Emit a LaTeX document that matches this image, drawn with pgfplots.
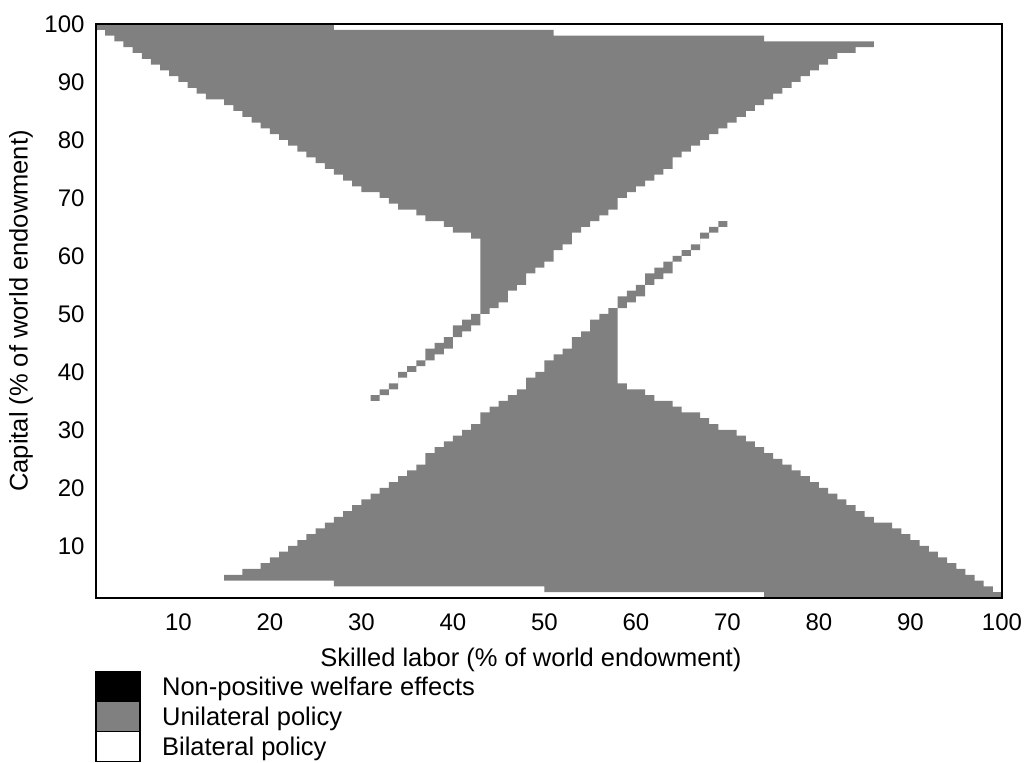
\documentclass[border=0pt]{standalone}
\usepackage{fontspec}
\setmainfont{Liberation Sans}
\usepackage{pgfplots}
\usepackage{pgfplotstable}
\pgfplotsset{compat=1.18}
\usepgfplotslibrary{fillbetween}
\definecolor{ug}{RGB}{128,128,128}

% Upper region: for each column x (cell [x,x+1]) grey from lo to hi
\pgfplotstableread{
x lo hi
1 99 100
2 98 100
3 97 100
4 96 100
5 95 100
6 94 100
7 93 100
8 92 100
9 91 100
10 90 100
11 89 100
12 88 100
13 87 100
14 87 100
15 86 100
16 85 100
17 84 100
18 83 100
19 82 100
20 81 100
21 80 100
22 79 100
23 78 100
24 77 100
25 76 100
26 75 100
27 74 99
28 73 99
29 72 99
30 71 99
31 71 99
32 70 99
33 69 99
34 68 99
35 68 99
36 67 99
37 66 99
38 66 99
39 65 99
40 64 99
41 64 99
42 63 99
43 50 99
44 51 99
45 52 99
46 54 99
47 55 99
48 57 99
49 58 99
50 59 99
51 61 98
52 62 98
53 64 98
54 65 98
55 66 98
56 67 98
57 68 98
58 70 98
59 71 98
60 72 98
61 73 98
62 74 98
63 75 98
64 77 98
65 78 98
66 79 98
67 80 98
68 81 98
69 82 98
70 83 98
71 84 98
72 85 98
73 86 98
74 87 97
75 88 97
76 89 97
77 90 97
78 91 97
79 92 97
80 93 97
81 94 97
82 95 97
83 95 97
84 96 97
85 96 97
86 96 97
}\upperreg

% Lower region
\pgfplotstableread{
x lo hi
15 4 5
16 4 5
17 4 6
18 4 6
19 4 7
20 4 8
21 4 9
22 4 10
23 4 11
24 4 12
25 4 13
26 4 14
27 3 15
28 3 16
29 3 17
30 3 18
31 3 19
32 3 20
33 3 21
34 3 22
35 3 23
36 3 24
37 3 26
38 3 27
39 3 28
40 3 29
41 3 30
42 3 31
43 3 33
44 3 34
45 3 35
46 3 36
47 3 37
48 3 39
49 3 40
50 2 42
51 2 43
52 2 44
53 2 46
54 2 47
55 2 49
56 2 50
57 2 51
58 2 38
59 2 37
60 2 37
61 2 36
62 2 35
63 2 35
64 2 34
65 2 33
66 2 33
67 2 32
68 2 31
69 2 30
70 2 30
71 2 29
72 2 28
73 2 27
74 1 26
75 1 25
76 1 24
77 1 23
78 1 22
79 1 21
80 1 20
81 1 19
82 1 18
83 1 17
84 1 16
85 1 15
86 1 14
87 1 14
88 1 13
89 1 12
90 1 11
91 1 10
92 1 9
93 1 8
94 1 7
95 1 6
96 1 5
97 1 4
98 1 3
99 1 2
100 1 2
}\lowerreg

% Thin diagonal strip, lower-left part
\pgfplotstableread{
x lo hi
31 35 36
32 36 37
33 37 38
34 39 40
35 40 41
36 41 42
37 42 44
38 43 45
39 44 46
40 46 48
41 47 49
42 48 50
43 48 50
}\stripa

% Thin diagonal strip, upper-right part
\pgfplotstableread{
x lo hi
58 51 53
59 52 54
60 53 55
61 55 57
62 56 58
63 57 59
64 59 60
65 60 61
66 61 62
67 63 64
68 64 65
69 65 66
70 65 66
}\stripb

\begin{document}
\begin{tikzpicture}
\begin{axis}[
  scale only axis,
  width=453pt, height=287pt,
  xmin=1, xmax=100, ymin=1, ymax=100,
  axis on top,
  axis line style={black, line width=0.75pt},
  xtick={10,20,...,100}, ytick={10,20,...,100},
  major tick length=0pt,
  /pgf/number format/assume math mode=true,
  tick label style={font=\fontsize{12}{14}\selectfont},
  xticklabel style={yshift=-4.5pt},
  yticklabel style={xshift=-2.2pt},
  xlabel={Skilled labor (\% of world endowment)},
  ylabel={Capital (\% of world endowment)},
  label style={font=\fontsize{12.75}{15}\selectfont},
  xlabel style={at={(axis description cs:0.48,0)}, anchor=north, yshift=-21.5pt},
  ylabel style={at={(axis description cs:-0.0618,0.5)}, anchor=south},
]
\coordinate (sw) at (rel axis cs:0,0);
\coordinate (ne) at (rel axis cs:1,1);

\addplot[const plot, draw=none, forget plot, name path=uT] table[x=x, y=hi] {\upperreg};
\addplot[const plot, draw=none, forget plot, name path=uB] table[x=x, y=lo] {\upperreg};
\addplot[fill=ug, draw=none, forget plot] fill between[of=uT and uB];

\addplot[const plot, draw=none, forget plot, name path=lT] table[x=x, y=hi] {\lowerreg};
\addplot[const plot, draw=none, forget plot, name path=lB] table[x=x, y=lo] {\lowerreg};
\addplot[fill=ug, draw=none, forget plot] fill between[of=lT and lB];

\addplot[const plot, draw=none, forget plot, name path=aT] table[x=x, y=hi] {\stripa};
\addplot[const plot, draw=none, forget plot, name path=aB] table[x=x, y=lo] {\stripa};
\addplot[fill=ug, draw=none, forget plot] fill between[of=aT and aB];

\addplot[const plot, draw=none, forget plot, name path=bT] table[x=x, y=hi] {\stripb};
\addplot[const plot, draw=none, forget plot, name path=bB] table[x=x, y=lo] {\stripb};
\addplot[fill=ug, draw=none, forget plot] fill between[of=bT and bB];
\end{axis}

% legend (swatches and labels under the axis)
\begin{scope}[line width=0.8pt]
\filldraw[fill=black, draw=black] ([shift={(0pt,-36.85pt)}]sw) rectangle ([shift={(22pt,-51.85pt)}]sw);
\filldraw[fill=ug, draw=black] ([shift={(0pt,-51.85pt)}]sw) rectangle ([shift={(22pt,-66.85pt)}]sw);
\filldraw[fill=white, draw=black] ([shift={(0pt,-66.85pt)}]sw) rectangle ([shift={(22pt,-81.85pt)}]sw);
\end{scope}
\begin{scope}[every node/.style={anchor=base west, inner sep=0pt, font=\fontsize{12.75}{15}\selectfont}]
\node at ([shift={(32.85pt,-48.9pt)}]sw) {Non-positive welfare effects};
\node at ([shift={(32.85pt,-63.9pt)}]sw) {Unilateral policy};
\node at ([shift={(32.85pt,-78.9pt)}]sw) {Bilateral policy};
\end{scope}

\pgfresetboundingbox
\path ([shift={(-48pt,-82.5pt)}]sw) rectangle ([shift={(12.5pt,12pt)}]ne);
\end{tikzpicture}
\end{document}
